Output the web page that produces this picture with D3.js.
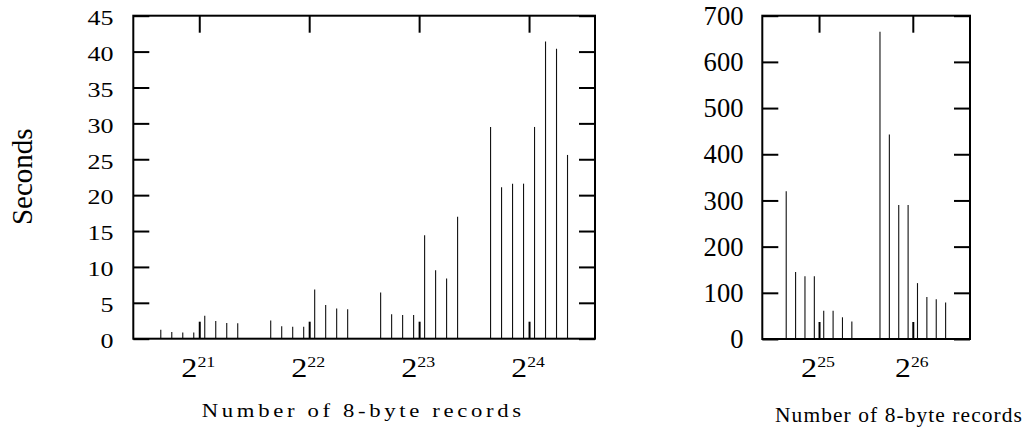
<!DOCTYPE html>
<html>
<head>
<meta charset="utf-8">
<script src="https://cdn.jsdelivr.net/npm/d3@7"></script>
<style>
  body { margin: 0; background: #fff; }
  text { font-family: "Liberation Serif", "Times New Roman", serif; fill: #000; }
</style>
</head>
<body>
<svg id="chart" width="1032" height="436"></svg>
<script>
// Problem sizes (number of 8-byte records) shown in each panel
const sizesSmall = [2 ** 21, 2 ** 22, 2 ** 23, 2 ** 24];
const sizesLarge = [2 ** 25, 2 ** 26];

// Eight timed variants at each size, in seconds
const secs2p21 = [1.25, 0.95, 0.85, 0.85, 3.2, 2.45, 2.2, 2.15];
const secs2p22 = [2.55, 1.75, 1.65, 1.65, 6.85, 4.7, 4.2, 4.1];
const secs2p23 = [6.45, 3.4, 3.3, 3.3, 14.4, 9.55, 8.4, 17.0];
const secs2p24 = [29.5, 21.1, 21.6, 21.6, 29.5, 41.4, 40.4, 25.6];
const secs2p25 = [320, 145, 136, 136, 61, 61, 47, 38];
const secs2p26 = [665, 443, 290, 290, 121, 91, 86, 79];

// Axis tick values
const yTicksSmall = [0, 5, 10, 15, 20, 25, 30, 35, 40, 45];
const yTicksLarge = [0, 100, 200, 300, 400, 500, 600, 700];
const xExpSmall = [21, 22, 23, 24];
const xExpLarge = [25, 26];

const xTitle = "Number of 8-byte records";
const yTitle = "Seconds";

const FONT = '"Liberation Serif", "Times New Roman", serif';
const svg = d3.select("#chart");

// Variants within a size are spread symmetrically around it on the log2 axis
const variantOffset = d3.scalePoint().domain(d3.range(8)).range([-0.35, 0.35]);

// Place a text at (x, y) and stretch it horizontally to a given width
function fitText(parent, x, y, width, anchor, build) {
  const t = parent.append("text")
    .attr("text-anchor", anchor)
    .style("font-family", FONT);
  build(t);
  const w = t.node().getBBox().width;
  const sx = w > 0 ? width / w : 1;
  t.attr("transform", `translate(${x},${y}) scale(${sx},1)`);
  return t;
}

function panel(opts) {
  const { left, right, top, bottom, expDomain, yMax, sizes, values,
          yTicks, xExps, yLabelRight, yFont, yDigitW, yBaseShift } = opts;

  const x = d3.scaleLog().base(2)
    .domain([2 ** expDomain[0], 2 ** expDomain[1]])
    .range([left, right]);
  const y = d3.scaleLinear().domain([0, yMax]).range([bottom, top]);

  const g = svg.append("g");

  // impulses
  sizes.forEach((size, i) => {
    g.append("g").selectAll("line")
      .data(values[i])
      .join("line")
      .attr("x1", (d, j) => x(size * 2 ** variantOffset(j)))
      .attr("x2", (d, j) => x(size * 2 ** variantOffset(j)))
      .attr("y1", y(0))
      .attr("y2", d => y(d))
      .attr("stroke", "#111")
      .attr("stroke-width", 1.1);
  });

  const tickStyle = sel => {
    sel.select(".domain").remove();
    sel.selectAll(".tick line").attr("stroke", "#000").attr("stroke-width", 2);
  };

  // left axis, inward ticks
  g.append("g").attr("transform", `translate(${left},0)`)
    .call(d3.axisLeft(y).tickValues(yTicks).tickSize(-16).tickFormat(""))
    .call(tickStyle);

  // right axis, inward ticks
  g.append("g").attr("transform", `translate(${right},0)`)
    .call(d3.axisRight(y).tickValues(yTicks).tickSize(-16).tickFormat(""))
    .call(tickStyle);

  // top axis, inward ticks
  g.append("g").attr("transform", `translate(0,${top})`)
    .call(d3.axisTop(x).tickValues(xExps.map(e => 2 ** e)).tickSize(-17).tickFormat(""))
    .call(tickStyle);

  // bottom axis, inward ticks
  g.append("g").attr("transform", `translate(0,${bottom})`)
    .call(d3.axisBottom(x).tickValues(xExps.map(e => 2 ** e)).tickSize(-17).tickFormat(""))
    .call(tickStyle);

  // y tick labels
  const yLab = g.append("g");
  yTicks.forEach(v => {
    const s = String(v);
    fitText(yLab, yLabelRight, y(v) + yBaseShift, yDigitW * s.length, "end",
      t => t.attr("font-size", yFont).text(s));
  });

  // x tick labels as powers of two
  const xLab = g.append("g");
  xExps.forEach(e => {
    fitText(xLab, x(2 ** e) - 1, bottom + 38, 34, "middle", t => {
      t.append("tspan").attr("font-size", 27).text("2");
      t.append("tspan").attr("font-size", 15).attr("dy", -10).text(e);
    });
  });

  // frame
  g.append("rect")
    .attr("x", left).attr("y", top)
    .attr("width", right - left).attr("height", bottom - top)
    .attr("fill", "none").attr("stroke", "#000").attr("stroke-width", 2);

  return g;
}

panel({
  left: 133.3, right: 595, top: 15.7, bottom: 338.7,
  expDomain: [20.4, 24.6], yMax: 45,
  sizes: sizesSmall, values: [secs2p21, secs2p22, secs2p23, secs2p24],
  yTicks: yTicksSmall, xExps: xExpSmall,
  yLabelRight: 113.5, yFont: 22, yDigitW: 13, yBaseShift: 9.3
});

panel({
  left: 762.3, right: 970, top: 15.7, bottom: 339,
  expDomain: [24.395, 26.61], yMax: 700,
  sizes: sizesLarge, values: [secs2p25, secs2p26],
  yTicks: yTicksLarge, xExps: xExpLarge,
  yLabelRight: 743.5, yFont: 27, yDigitW: 13.3, yBaseShift: 9.2
});

// axis titles
fitText(svg, 31.5, 176.7, 100, "middle",
  t => t.attr("font-size", 29).text(yTitle))
  .attr("transform", "translate(31.5,176.7) rotate(-90)");

fitText(svg, 363.3, 417.3, 323, "middle",
  t => t.attr("font-size", 18.6).attr("letter-spacing", 3).text(xTitle));

fitText(svg, 899, 421.7, 248, "middle",
  t => t.attr("font-size", 20).attr("letter-spacing", 1).text(xTitle));
</script>
</body>
</html>
